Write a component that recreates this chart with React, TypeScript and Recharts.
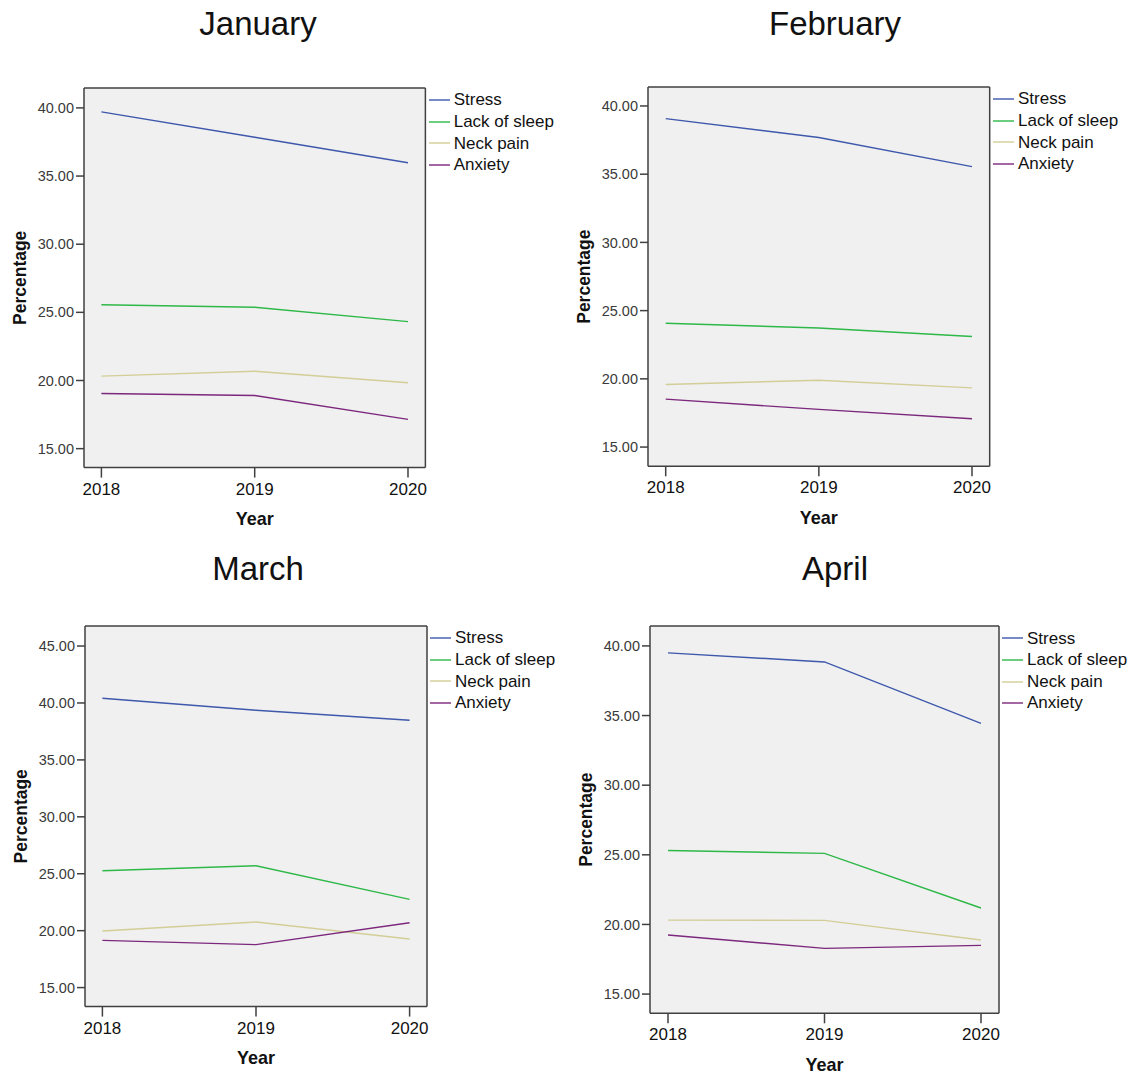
import React from 'react';
import { LineChart, Line, XAxis, YAxis, CartesianGrid, Legend } from 'recharts';

const years = ['2018', '2019', '2020'];
const seriesNames = ['Stress', 'Lack of sleep', 'Neck pain', 'Anxiety'];
const seriesKeys = ['stress', 'sleep', 'neck', 'anxiety'];
const seriesColors = ['#3E58AC', '#2EB848', '#D3CE97', '#7C287D'];

const janStress = [39.71, 37.85, 35.98];
const janSleep = [25.56, 25.37, 24.32];
const janNeck = [20.32, 20.68, 19.83];
const janAnxiety = [19.05, 18.9, 17.15];

const febStress = [39.07, 37.69, 35.55];
const febSleep = [24.07, 23.73, 23.1];
const febNeck = [19.59, 19.9, 19.34];
const febAnxiety = [18.51, 17.76, 17.08];

const marStress = [40.41, 39.36, 38.48];
const marSleep = [25.26, 25.7, 22.75];
const marNeck = [19.97, 20.76, 19.27];
const marAnxiety = [19.15, 18.77, 20.7];

const aprStress = [39.5, 38.85, 34.44];
const aprSleep = [25.31, 25.1, 21.18];
const aprNeck = [20.31, 20.29, 18.88];
const aprAnxiety = [19.24, 18.28, 18.5];

const ticksA = [15, 20, 25, 30, 35, 40];
const ticksB = [15, 20, 25, 30, 35, 40, 45];

const FONT = "'Liberation Sans', Arial, sans-serif";
const AXIS = '#404040';

function build(s: number[], sl: number[], n: number[], a: number[]) {
  return years.map((y, i) => ({ year: y, stress: s[i], sleep: sl[i], neck: n[i], anxiety: a[i] }));
}

const YW = 84;
const MT = 4;
const RW = 150;
const XH = 70;

const renderLegend = (props: any) => {
  const payload = [...(props.payload || [])].sort(
    (a: any, b: any) => seriesNames.indexOf(a.value) - seriesNames.indexOf(b.value)
  );
  return (
    <div style={{ fontFamily: FONT }}>
      {payload.map((p: any) => (
        <div key={p.value} style={{ height: 21.6, display: 'flex', alignItems: 'center', whiteSpace: 'nowrap' }}>
          <svg width={21} height={4} style={{ display: 'block' }}>
            <line x1={0} y1={2} x2={21} y2={2} stroke={p.color} strokeWidth={1.4} />
          </svg>
          <span style={{ marginLeft: 4, fontSize: 17, color: '#111', lineHeight: '21.6px' }}>{p.value}</span>
        </div>
      ))}
    </div>
  );
};

type PanelProps = {
  title: string;
  titleX: number;
  titleTop: number;
  boxL: number;
  boxT: number;
  boxW: number;
  boxH: number;
  padX: number;
  domain: [number, number];
  ticks: number[];
  data: any[];
};

function Panel(p: PanelProps) {
  // top axis adds 1px to top offset, right axis adds 1px to right offset
  const width = YW + p.boxW + 1 + RW;
  const height = MT + 1 + p.boxH + XH;
  const yLabel = (props: any) => {
    const vb = props.viewBox || {};
    const x = (vb.x || 0) + 19.7;
    const y = (vb.y || 0) + (vb.height || 0) / 2;
    return (
      <text x={x} y={y} transform={`rotate(-90 ${x} ${y})`} textAnchor="middle" dominantBaseline="central"
        fontFamily={FONT} fontWeight="bold" fontSize={17.5} fill="#111">Percentage</text>
    );
  };
  const xLabel = (props: any) => {
    const vb = props.viewBox || {};
    const x = (vb.x || 0) + (vb.width || 0) / 2;
    const y = (vb.y || 0) + 57.7;
    return (
      <text x={x} y={y} textAnchor="middle" fontFamily={FONT} fontWeight="bold" fontSize={18} fill="#111">Year</text>
    );
  };
  return (
    <>
      <div style={{
        position: 'absolute', left: p.titleX - 150, width: 300, top: p.titleTop, textAlign: 'center',
        fontFamily: FONT, fontSize: 33, lineHeight: 1, color: '#111'
      }}>{p.title}</div>
      <div style={{ position: 'absolute', left: p.boxL - YW, top: p.boxT - MT - 1, width, height }}>
        <LineChart width={width} height={height} data={p.data} margin={{ top: MT, right: RW, bottom: 0, left: 0 }}>
          <CartesianGrid horizontal={false} vertical={false} fill="#f0f0f0" stroke="none" />
          <XAxis dataKey="year" type="category" padding={{ left: p.padX, right: p.padX }} height={XH}
            axisLine={{ stroke: AXIS, strokeWidth: 1.5 }} tickLine={{ stroke: AXIS, strokeWidth: 1.5 }}
            tickSize={10} tickMargin={5} interval={0}
            tick={{ fill: '#111', fontSize: 17, fontFamily: FONT }}
            label={{ content: xLabel }} />
          <XAxis xAxisId="top" orientation="top" dataKey="year" type="category" padding={{ left: p.padX, right: p.padX }}
            height={1} tick={false} tickLine={false} axisLine={{ stroke: AXIS, strokeWidth: 1.5 }} />
          <YAxis type="number" domain={p.domain} ticks={p.ticks} allowDataOverflow width={YW}
            axisLine={{ stroke: AXIS, strokeWidth: 1.5 }} tickLine={{ stroke: AXIS, strokeWidth: 1.5 }}
            tickSize={8} tickMargin={2} interval={0}
            tickFormatter={(v: number) => v.toFixed(2)}
            tick={{ fill: '#3a3a3a', fontSize: 14.5, fontFamily: FONT }}
            label={{ content: yLabel }} />
          <YAxis yAxisId="right" orientation="right" type="number" domain={p.domain} allowDataOverflow width={1}
            tick={false} tickLine={false} axisLine={{ stroke: AXIS, strokeWidth: 1.5 }} />
          <Legend layout="vertical" align="center" verticalAlign="middle" content={renderLegend}
            wrapperStyle={{ position: 'absolute', left: YW + p.boxW + 3, top: MT + 1 + 12.5 - 10.8, width: 140, height: 'auto', right: 'auto', bottom: 'auto' }} />
          {seriesKeys.map((k, i) => (
            <Line key={k} type="linear" dataKey={k} name={seriesNames[i]} stroke={seriesColors[i]} strokeWidth={1.4}
              dot={false} activeDot={false} isAnimationActive={false} />
          ))}
        </LineChart>
      </div>
    </>
  );
}

export default function App() {
  return (
    <div style={{ position: 'absolute', left: 0, top: 0, width: 1137, height: 1074, background: '#fff' }}>
      <Panel title="January" titleX={258} titleTop={7} boxL={84.3} boxT={87.7} boxW={341.4} boxH={379.6} padX={17.4}
        domain={[13.61, 41.46]} ticks={ticksA} data={build(janStress, janSleep, janNeck, janAnxiety)} />
      <Panel title="February" titleX={835} titleTop={7} boxL={648.3} boxT={86.7} boxW={341.7} boxH={379.3} padX={17.7}
        domain={[13.59, 41.39]} ticks={ticksA} data={build(febStress, febSleep, febNeck, febAnxiety)} />
      <Panel title="March" titleX={258} titleTop={552} boxL={85} boxT={625.7} boxW={342} boxH={380.6} padX={17.4}
        domain={[13.33, 46.76]} ticks={ticksB} data={build(marStress, marSleep, marNeck, marAnxiety)} />
      <Panel title="April" titleX={835} titleTop={552} boxL={650} boxT={626} boxW={349} boxH={387.3} padX={18}
        domain={[13.62, 41.43]} ticks={ticksA} data={build(aprStress, aprSleep, aprNeck, aprAnxiety)} />
    </div>
  );
}
